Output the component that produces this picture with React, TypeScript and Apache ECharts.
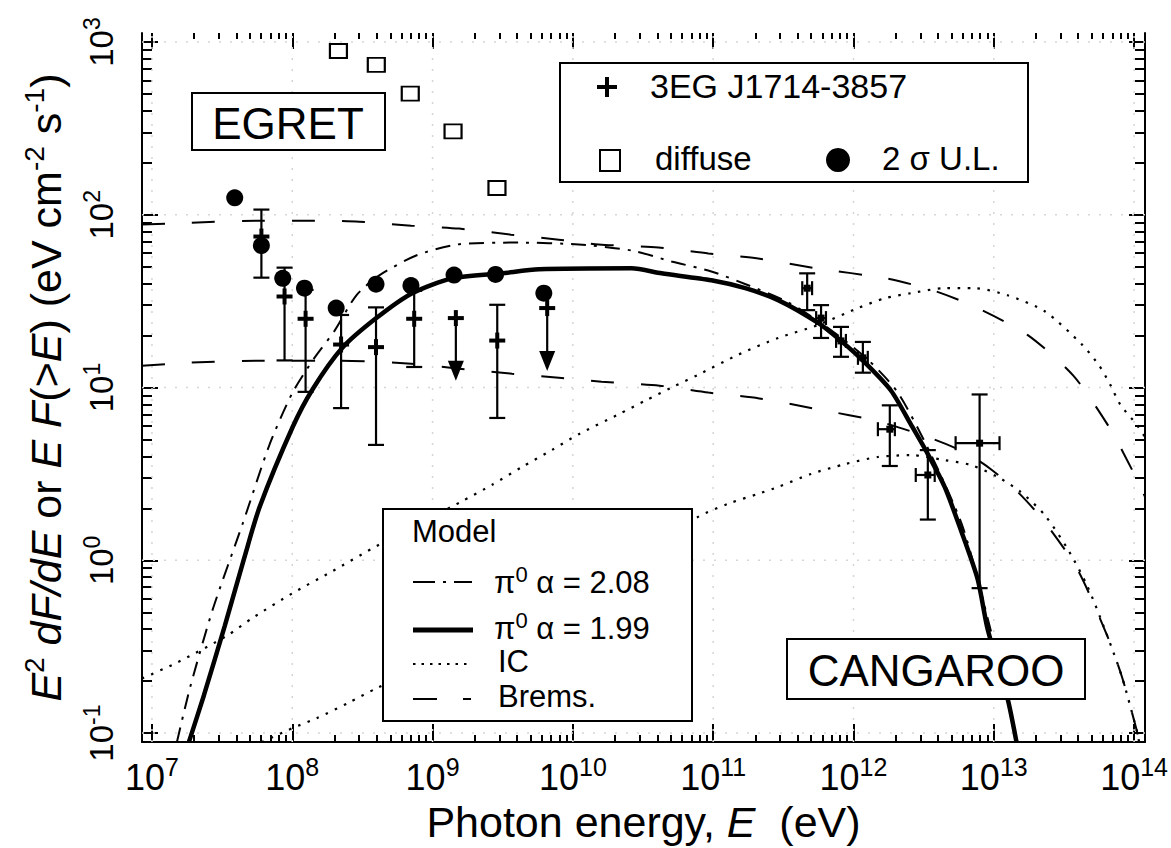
import React, { useEffect, useRef } from "react";
import * as echarts from "echarts";

// ---- axis extents (log10 units) ----
const X_MIN = 6.929;
const X_MAX = 14.078;
const Y_MIN = -1.052;
const Y_MAX = 3.052;

const xDecades = [7, 8, 9, 10, 11, 12, 13, 14];
const yDecades = [-1, 0, 1, 2, 3];
const minorFactors = [2, 3, 4, 5, 6, 7, 8, 9];

// ---- data (log10 E [eV], log10 E^2 dF/dE [eV cm^-2 s^-1]) ----
// EGRET diffuse background
const diffuseLogE = [8.329, 8.599, 8.841, 9.146, 9.459];
const diffuseLogF = [2.948, 2.868, 2.701, 2.483, 2.155];

// EGRET 2 sigma upper limits
const ulLogE = [7.59, 7.78, 7.932, 8.087, 8.313, 8.597, 8.846, 9.153, 9.449, 9.793];
const ulLogF = [2.098, 1.822, 1.632, 1.575, 1.46, 1.598, 1.59, 1.651, 1.655, 1.546];

// 3EG J1714-3857
const egretLogE = [7.78, 7.945, 8.095, 8.348, 8.597, 8.869, 9.166, 9.461, 9.817];
const egretLogF = [1.874, 1.527, 1.398, 1.249, 1.234, 1.398, 1.402, 1.272, 1.46];
const egretLogLo = [1.636, 1.157, 0.975, 0.881, 0.668, 1.119, 1.039, 0.824, 1.096];
const egretLogHi = [2.03, 1.694, 1.565, 1.42, 1.464, 1.56, 1.402, 1.479, 1.46];
const egretIsUL = [0, 0, 0, 0, 0, 0, 1, 0, 1];

// CANGAROO
const cangLogE = [11.67, 11.769, 11.911, 12.067, 12.259, 12.53, 12.899];
const cangLogELo = [11.635, 11.734, 11.876, 12.032, 12.174, 12.444, 12.728];
const cangLogEHi = [11.705, 11.804, 11.946, 12.102, 12.295, 12.579, 13.041];
const cangLogF = [1.575, 1.402, 1.27, 1.172, 0.759, 0.494, 0.678];
const cangLogFLo = [1.448, 1.287, 1.178, 1.086, 0.546, 0.236, -0.161];
const cangLogFHi = [1.661, 1.477, 1.351, 1.264, 0.897, 0.638, 0.96];

// Model: pi0 alpha = 1.99 (thick solid)
const pi199LogE = [7.263, 7.37, 7.519, 7.661, 7.768, 8.002, 8.144, 8.357, 8.599, 8.855, 9.139, 9.495, 9.758, 10.419, 10.632, 10.987, 11.229, 11.463, 11.748, 11.911, 12.082, 12.267, 12.409, 12.53, 12.65, 12.764, 12.885, 12.956, 13.098, 13.162];
const pi199LogF = [-1.052, -0.782, -0.379, 0.023, 0.31, 0.77, 0.989, 1.23, 1.402, 1.546, 1.632, 1.661, 1.684, 1.69, 1.661, 1.621, 1.575, 1.506, 1.374, 1.27, 1.144, 0.983, 0.787, 0.615, 0.425, 0.178, -0.109, -0.397, -0.799, -1.052];

// Model: pi0 alpha = 2.08 (dash-dot)
const pi208LogE = [7.178, 7.27, 7.434, 7.647, 7.839, 8.002, 8.158, 8.301, 8.457, 8.62, 8.883, 9.175, 9.615, 10.042, 10.419, 10.703, 10.987, 11.25, 11.534, 11.819, 12.103, 12.316, 12.544, 12.778, 12.97, 13.169];
const pi208LogF = [-1.052, -0.741, -0.282, 0.213, 0.672, 0.971, 1.172, 1.328, 1.534, 1.649, 1.764, 1.828, 1.839, 1.828, 1.793, 1.73, 1.672, 1.592, 1.494, 1.345, 1.161, 0.971, 0.626, 0.195, -0.379, -1.052];

// Model: IC (dotted), two cases
const icHighLogE = [6.929, 7.178, 7.533, 7.718, 8.002, 8.286, 8.571, 8.905, 9.203, 9.424, 9.637, 9.85, 10.042, 10.326, 10.518, 10.703, 10.895, 11.179, 11.463, 11.748, 12.032, 12.224, 12.409, 12.65, 12.864, 13.098, 13.361, 13.631, 13.752, 13.83, 13.901, 14.022, 14.078];
const icHighLogF = [-0.684, -0.592, -0.437, -0.333, -0.19, -0.063, 0.069, 0.213, 0.339, 0.437, 0.54, 0.638, 0.73, 0.845, 0.925, 1.0, 1.075, 1.19, 1.287, 1.362, 1.46, 1.517, 1.546, 1.575, 1.575, 1.534, 1.443, 1.247, 1.126, 1.017, 0.902, 0.782, 0.713];
const icLowLogE = [7.782, 8.002, 8.173, 8.407, 8.599, 9.118, 9.758, 10.326, 10.895, 11.108, 11.321, 11.463, 11.698, 11.94, 12.174, 12.409, 12.65, 12.835, 13.027, 13.19, 13.361, 13.524, 13.667, 13.809, 13.915, 14.022, 14.036];
const icLowLogF = [-1.052, -0.971, -0.914, -0.822, -0.741, -0.54, -0.264, -0.006, 0.253, 0.328, 0.385, 0.425, 0.5, 0.557, 0.598, 0.609, 0.58, 0.552, 0.483, 0.397, 0.264, 0.069, -0.149, -0.437, -0.678, -0.994, -1.052];

// Model: Bremsstrahlung (long dash), two cases
const bremHighLogE = [6.929, 7.27, 7.782, 8.158, 8.478, 8.848, 9.189, 9.559, 9.9, 10.184, 10.61, 10.966, 11.321, 11.733, 12.231, 12.565, 12.856, 13.24, 13.567, 13.823, 13.994, 14.078];
const bremHighLogF = [1.943, 1.954, 1.966, 1.966, 1.96, 1.937, 1.92, 1.885, 1.856, 1.828, 1.81, 1.776, 1.747, 1.69, 1.632, 1.563, 1.471, 1.305, 1.069, 0.77, 0.511, 0.368];
const bremLowLogE = [6.929, 7.27, 7.768, 8.336, 8.848, 9.189, 9.566, 9.9, 10.205, 10.618, 10.966, 11.328, 11.748, 12.174, 12.53, 12.792, 12.977, 13.169, 13.361, 13.596, 13.809, 13.915, 14.022, 14.036];
const bremLowLogF = [1.126, 1.144, 1.155, 1.155, 1.138, 1.109, 1.08, 1.057, 1.034, 1.011, 0.971, 0.937, 0.874, 0.805, 0.713, 0.626, 0.529, 0.397, 0.224, -0.052, -0.437, -0.678, -0.994, -1.052];

const FONT = '"Liberation Sans", Arial, Helvetica, sans-serif';

const pairs = (xs: number[], ys: number[]) => xs.map((x, i) => [x, ys[i]]);

const xMinor: number[] = [];
xDecades.slice(0, -1).forEach((n) => minorFactors.forEach((k) => xMinor.push(n + Math.log10(k))));
const yMinor: number[] = [];
yDecades.slice(0, -1).forEach((n) => minorFactors.forEach((k) => yMinor.push(n + Math.log10(k))));

const tickLine = { color: "#000", width: 2 };

function xAxisDef(position: string, values: number[], len: number, main: boolean): any {
  return {
    type: "value",
    min: X_MIN,
    max: X_MAX,
    position,
    splitLine: { show: false },
    axisLine: main ? { show: true, onZero: false, lineStyle: { color: "#000", width: 2 } } : { show: false, onZero: false },
    axisTick: { show: true, inside: true, length: len, customValues: values, lineStyle: tickLine },
    axisLabel: main
      ? {
          show: true,
          customValues: xDecades,
          margin: 12,
          formatter: (v: number) => `{b|10}{s|${Math.round(v)}}`,
          rich: {
            b: { fontSize: 36, fontFamily: FONT, color: "#000", lineHeight: 46 },
            s: { fontSize: 25, fontFamily: FONT, color: "#000", verticalAlign: "top", lineHeight: 26 },
          },
        }
      : { show: false },
    ...(main
      ? {
          name: "Photon energy, {i|E}  (eV)",
          nameLocation: "middle",
          nameGap: 50,
          nameTextStyle: {
            fontSize: 43,
            fontFamily: FONT,
            color: "#000",
            rich: { i: { fontSize: 43, fontFamily: FONT, fontStyle: "italic", color: "#000" } },
          },
        }
      : {}),
  };
}

function yAxisDef(position: string, values: number[], len: number, main: boolean, line: boolean): any {
  return {
    type: "value",
    min: Y_MIN,
    max: Y_MAX,
    position,
    splitLine: { show: false },
    axisLine: line ? { show: true, onZero: false, lineStyle: { color: "#000", width: 2 } } : { show: false, onZero: false },
    axisTick: { show: true, inside: true, length: len, customValues: values, lineStyle: tickLine },
    axisLabel: main
      ? {
          show: true,
          customValues: yDecades,
          rotate: 90,
          margin: 20,
          formatter: (v: number) => `{b|10}{s|${Math.round(v)}}`,
          rich: {
            b: { fontSize: 33, fontFamily: FONT, color: "#000", lineHeight: 42 },
            s: { fontSize: 23, fontFamily: FONT, color: "#000", verticalAlign: "top", lineHeight: 24 },
          },
        }
      : { show: false },
    ...(main
      ? {
          name: "{i|E}{s|2} {i|dF/dE} or {i|E F}(>{i|E}) (eV cm{s|-2} s{s|-1})",
          nameLocation: "middle",
          nameRotate: 90,
          nameGap: 66,
          nameTextStyle: {
            fontSize: 43,
            fontFamily: FONT,
            color: "#000",
            lineHeight: 52,
            rich: {
              i: { fontSize: 43, fontFamily: FONT, fontStyle: "italic", color: "#000", lineHeight: 52 },
              s: { fontSize: 28, fontFamily: FONT, color: "#000", verticalAlign: "top", lineHeight: 28 },
            },
          },
        }
      : {}),
  };
}

const gridLineData: number[][] = [
  ...xDecades.map((v) => [v, Y_MIN, 0]),
  ...yDecades.map((v) => [X_MIN, v, 1]),
];

function curve(name: string, xs: number[], ys: number[], lineStyle: any): any {
  return {
    name,
    type: "line",
    data: pairs(xs, ys),
    showSymbol: false,
    symbol: "none",
    smooth: 0.25,
    lineStyle: { color: "#000", opacity: 1, ...lineStyle },
    z: 3,
    silent: true,
  };
}

const option: any = {
  animation: false,
  backgroundColor: "#fff",
  grid: { left: 142, right: 23, top: 33, bottom: 101, containLabel: false },
  xAxis: [
    xAxisDef("bottom", xDecades, 18, true),
    xAxisDef("bottom", xMinor, 7, false),
    xAxisDef("top", xDecades, 16, false),
    xAxisDef("top", xMinor, 6, false),
  ],
  yAxis: [
    yAxisDef("left", yDecades, 16, true, true),
    yAxisDef("left", yMinor, 10, false, false),
    yAxisDef("right", yDecades, 16, false, true),
    yAxisDef("right", yMinor, 10, false, false),
  ],
  series: [
    {
      name: "grid",
      type: "custom",
      silent: true,
      z: 1,
      data: gridLineData,
      renderItem: (_p: any, api: any) => {
        const kind = api.value(2);
        const a = kind === 0 ? api.coord([api.value(0), Y_MIN]) : api.coord([X_MIN, api.value(1)]);
        const b = kind === 0 ? api.coord([api.value(0), Y_MAX]) : api.coord([X_MAX, api.value(1)]);
        return {
          type: "line",
          shape: { x1: a[0], y1: a[1], x2: b[0], y2: b[1] },
          style: { stroke: "#d6d6d6", lineWidth: 1.5, lineDash: [2, 9] },
        };
      },
    },
    curve("Brems. (high)", bremHighLogE, bremHighLogF, { width: 2, type: [23, 27] }),
    curve("Brems. (low)", bremLowLogE, bremLowLogF, { width: 2, type: [23, 27] }),
    curve("IC (high)", icHighLogE, icHighLogF, { width: 2.2, type: [2.5, 7.5] }),
    curve("IC (low)", icLowLogE, icLowLogF, { width: 2.2, type: [2.5, 7.5] }),
    curve("pi0 alpha=2.08", pi208LogE, pi208LogF, { width: 2, type: [15, 8, 3, 8] }),
    curve("pi0 alpha=1.99", pi199LogE, pi199LogF, { width: 4.5 }),
    {
      name: "diffuse",
      type: "scatter",
      data: pairs(diffuseLogE, diffuseLogF),
      symbol: "rect",
      symbolSize: [17, 14],
      itemStyle: { color: "#fff", borderColor: "#000", borderWidth: 2, opacity: 1 },
      z: 6,
      silent: true,
    },
    {
      name: "3EG J1714-3857",
      type: "custom",
      z: 5,
      silent: true,
      data: egretLogE.map((e, i) => [e, egretLogF[i], egretLogLo[i], egretLogHi[i], egretIsUL[i]]),
      renderItem: (_p: any, api: any) => {
        const e = api.value(0);
        const c = api.coord([e, api.value(1)]);
        const cl = api.coord([e, api.value(2)]);
        const ch = api.coord([e, api.value(3)]);
        const ul = api.value(4);
        const st = { stroke: "#000", lineWidth: 2.2 };
        const kids: any[] = [];
        if (ul) {
          kids.push({ type: "line", shape: { x1: c[0], y1: c[1], x2: cl[0], y2: cl[1] - 8 }, style: st });
          kids.push({
            type: "polygon",
            shape: { points: [[cl[0] - 8, cl[1] - 20], [cl[0] + 8, cl[1] - 20], [cl[0], cl[1]]] },
            style: { fill: "#000" },
          });
        } else {
          kids.push({ type: "line", shape: { x1: ch[0], y1: ch[1], x2: cl[0], y2: cl[1] }, style: st });
          kids.push({ type: "line", shape: { x1: ch[0] - 8, y1: ch[1], x2: ch[0] + 8, y2: ch[1] }, style: st });
          kids.push({ type: "line", shape: { x1: cl[0] - 8, y1: cl[1], x2: cl[0] + 8, y2: cl[1] }, style: st });
        }
        kids.push({ type: "line", shape: { x1: c[0] - 8, y1: c[1], x2: c[0] + 8, y2: c[1] }, style: { stroke: "#000", lineWidth: 4 } });
        kids.push({ type: "line", shape: { x1: c[0], y1: c[1] - 8, x2: c[0], y2: c[1] + 8 }, style: { stroke: "#000", lineWidth: 4 } });
        return { type: "group", children: kids };
      },
    },
    {
      name: "2 sigma U.L.",
      type: "scatter",
      data: pairs(ulLogE, ulLogF),
      symbol: "circle",
      symbolSize: 17,
      itemStyle: { color: "#000", opacity: 1 },
      z: 6,
      silent: true,
    },
    {
      name: "CANGAROO",
      type: "custom",
      z: 5,
      silent: true,
      data: cangLogE.map((e, i) => [e, cangLogF[i], cangLogELo[i], cangLogEHi[i], cangLogFLo[i], cangLogFHi[i]]),
      renderItem: (_p: any, api: any) => {
        const e = api.value(0);
        const f = api.value(1);
        const c = api.coord([e, f]);
        const el = api.coord([api.value(2), f]);
        const eh = api.coord([api.value(3), f]);
        const fl = api.coord([e, api.value(4)]);
        const fh = api.coord([e, api.value(5)]);
        const st = { stroke: "#000", lineWidth: 2.2 };
        const kids: any[] = [
          { type: "line", shape: { x1: fh[0], y1: fh[1], x2: fl[0], y2: fl[1] }, style: st },
          { type: "line", shape: { x1: fh[0] - 8, y1: fh[1], x2: fh[0] + 8, y2: fh[1] }, style: st },
          { type: "line", shape: { x1: fl[0] - 8, y1: fl[1], x2: fl[0] + 8, y2: fl[1] }, style: st },
          { type: "line", shape: { x1: el[0], y1: el[1], x2: eh[0], y2: eh[1] }, style: st },
          { type: "line", shape: { x1: el[0], y1: el[1] - 7, x2: el[0], y2: el[1] + 7 }, style: st },
          { type: "line", shape: { x1: eh[0], y1: eh[1] - 7, x2: eh[0], y2: eh[1] + 7 }, style: st },
          { type: "rect", shape: { x: c[0] - 3.5, y: c[1] - 3.5, width: 7, height: 7 }, style: { fill: "#000" } },
        ];
        return { type: "group", children: kids };
      },
    },
  ],
  graphic: [
    // EGRET label
    { type: "rect", z: 100, shape: { x: 192, y: 93, width: 193, height: 57 }, style: { fill: "#fff", stroke: "#000", lineWidth: 2 } },
    { type: "text", z: 101, x: 288, y: 123, style: { text: "EGRET", fontSize: 44, fontFamily: FONT, fill: "#000", align: "center", verticalAlign: "middle" } },
    // CANGAROO label
    { type: "rect", z: 100, shape: { x: 787, y: 639, width: 298, height: 60 }, style: { fill: "#fff", stroke: "#000", lineWidth: 2 } },
    { type: "text", z: 101, x: 936, y: 670, style: { text: "CANGAROO", fontSize: 44, fontFamily: FONT, fill: "#000", align: "center", verticalAlign: "middle" } },
    // data legend
    { type: "rect", z: 100, shape: { x: 560, y: 63, width: 468, height: 119 }, style: { fill: "#fff", stroke: "#000", lineWidth: 2 } },
    { type: "line", z: 101, shape: { x1: 597, y1: 87, x2: 617, y2: 87 }, style: { stroke: "#000", lineWidth: 4 } },
    { type: "line", z: 101, shape: { x1: 607, y1: 77, x2: 607, y2: 97 }, style: { stroke: "#000", lineWidth: 4 } },
    { type: "text", z: 101, x: 650, y: 86, style: { text: "3EG J1714-3857", fontSize: 34, fontFamily: FONT, fill: "#000", align: "left", verticalAlign: "middle" } },
    { type: "rect", z: 101, shape: { x: 600, y: 150, width: 20, height: 21 }, style: { fill: "#fff", stroke: "#000", lineWidth: 2 } },
    { type: "text", z: 101, x: 655, y: 158, style: { text: "diffuse", fontSize: 33, fontFamily: FONT, fill: "#000", align: "left", verticalAlign: "middle" } },
    { type: "circle", z: 101, shape: { cx: 838, cy: 160, r: 12 }, style: { fill: "#000" } },
    { type: "text", z: 101, x: 882, y: 158, style: { text: "2 σ U.L.", fontSize: 33, fontFamily: FONT, fill: "#000", align: "left", verticalAlign: "middle" } },
    // model legend
    { type: "rect", z: 100, shape: { x: 383, y: 509, width: 309, height: 212 }, style: { fill: "#fff", stroke: "#000", lineWidth: 2 } },
    { type: "text", z: 101, x: 412, y: 531, style: { text: "Model", fontSize: 31, fontFamily: FONT, fill: "#000", align: "left", verticalAlign: "middle" } },
    { type: "polyline", z: 101, shape: { points: [[413, 582], [472, 582]] }, style: { stroke: "#000", lineWidth: 2, lineDash: [22, 8, 3, 8] } },
    {
      type: "text", z: 101, x: 494, y: 582,
      style: {
        text: "π{s|0} α = 2.08", fontSize: 31, fontFamily: FONT, fill: "#000", align: "left", verticalAlign: "middle", lineHeight: 38,
        rich: { s: { fontSize: 22, fontFamily: FONT, fill: "#000", verticalAlign: "top", lineHeight: 22 } },
      },
    },
    { type: "line", z: 101, shape: { x1: 413, y1: 630, x2: 473, y2: 630 }, style: { stroke: "#000", lineWidth: 5 } },
    {
      type: "text", z: 101, x: 494, y: 628,
      style: {
        text: "π{s|0} α = 1.99", fontSize: 31, fontFamily: FONT, fill: "#000", align: "left", verticalAlign: "middle", lineHeight: 38,
        rich: { s: { fontSize: 22, fontFamily: FONT, fill: "#000", verticalAlign: "top", lineHeight: 22 } },
      },
    },
    { type: "line", z: 101, shape: { x1: 413, y1: 664, x2: 472, y2: 664 }, style: { stroke: "#000", lineWidth: 2, lineDash: [2.5, 6] } },
    { type: "text", z: 101, x: 498, y: 661, style: { text: "IC", fontSize: 31, fontFamily: FONT, fill: "#000", align: "left", verticalAlign: "middle" } },
    { type: "line", z: 101, shape: { x1: 413, y1: 699, x2: 471, y2: 699 }, style: { stroke: "#000", lineWidth: 2, lineDash: [24, 26] } },
    { type: "text", z: 101, x: 498, y: 696, style: { text: "Brems.", fontSize: 31, fontFamily: FONT, fill: "#000", align: "left", verticalAlign: "middle" } },
  ],
};

export default function App() {
  const ref = useRef<HTMLDivElement>(null);
  useEffect(() => {
    if (!ref.current) return;
    const chart = echarts.init(ref.current, null, { renderer: "svg" });
    chart.setOption(option);
    return () => chart.dispose();
  }, []);
  return (
    <div
      ref={ref}
      style={{ position: "fixed", left: 0, top: 0, width: 1171, height: 848, background: "#fff" }}
    />
  );
}
